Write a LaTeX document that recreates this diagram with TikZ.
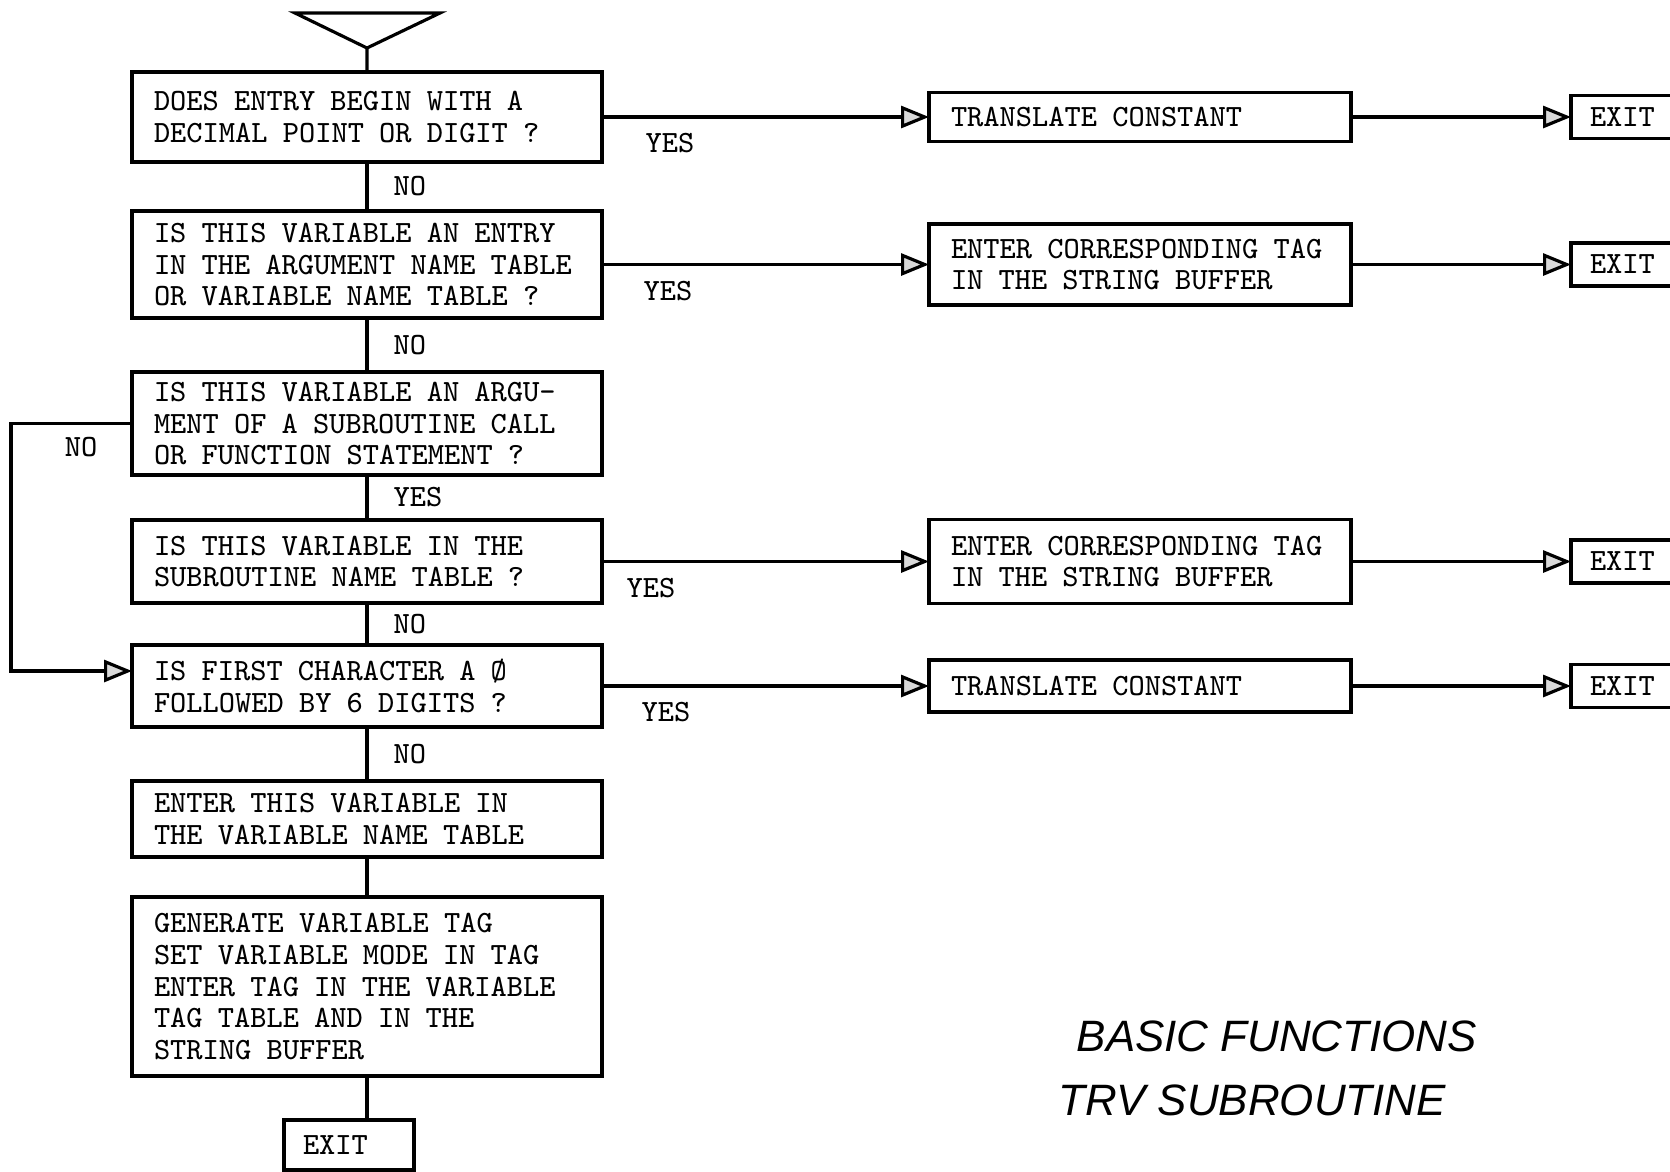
\documentclass[tikz,border=0pt]{standalone}
\usepackage{fontspec}
\usetikzlibrary{positioning,arrows.meta}
\newfontfamily\lettering{Liberation Sans}
\newcommand\typew{\ttfamily\fontsize{8.8}{9}\selectfont}
\newcommand\wsp{\hspace{0.49em}}
\tikzset{
  blk/.style={draw,line width=1pt,font=\typew,align=left,inner xsep=2.2mm,inner ysep=0.5mm,outer sep=0pt,text width=4.26cm},
  rblk/.style={blk,inner xsep=2.2mm,text width=3.78cm},
  exitb/.style={blk,inner xsep=1.9mm,text width=0.82cm,minimum height=4.3mm},
  ln/.style={line width=0.9pt},
  arr/.style={ln,-{Triangle[length=2.8mm,width=2.2mm,fill=gray!30]}},
  lab/.style={font=\typew,inner sep=0pt},
  ttl/.style={font=\lettering\itshape\fontsize{12.5}{14}\selectfont,inner sep=0pt},
}
\begin{document}
\begin{tikzpicture}[node distance=4.5mm and 3.27cm]
\useasboundingbox (0,0) rectangle (16.70,-11.71);
\draw[ln] (2.95,-0.13) -- (4.40,-0.13) -- (3.67,-0.48) -- cycle;
\coordinate (st) at (3.67,-0.48);
\node[blk,anchor=north west,minimum height=9mm] (q1) at (1.32,-0.72) {DOES\wsp ENTRY\wsp BEGIN\wsp WITH\wsp A\\DECIMAL\wsp POINT\wsp OR\wsp DIGIT\wsp ?};
\node[blk,below=4.9mm of q1,minimum height=10.7mm] (q2) {IS\wsp THIS\wsp VARIABLE\wsp AN\wsp ENTRY\\IN\wsp THE\wsp ARGUMENT\wsp NAME\wsp TABLE\\OR\wsp VARIABLE\wsp NAME\wsp TABLE\wsp ?};
\node[blk,below=5.4mm of q2,minimum height=10.3mm] (q3) {IS\wsp THIS\wsp VARIABLE\wsp AN\wsp ARGU-\\MENT\wsp OF\wsp A\wsp SUBROUTINE\wsp CALL\\OR\wsp FUNCTION\wsp STATEMENT\wsp ?};
\node[blk,below=4.5mm of q3,minimum height=8.3mm] (q4) {IS\wsp THIS\wsp VARIABLE\wsp IN\wsp THE\\SUBROUTINE\wsp NAME\wsp TABLE\wsp ?};
\node[blk,below=4.2mm of q4,minimum height=8.2mm] (q5) {IS\wsp FIRST\wsp CHARACTER\wsp A\wsp Ø\\FOLLOWED\wsp BY\wsp 6\wsp DIGITS\wsp ?};
\node[blk,below=5.4mm of q5,minimum height=7.6mm] (ent) {ENTER\wsp THIS\wsp VARIABLE\wsp IN\\THE\wsp VARIABLE\wsp NAME\wsp TABLE};
\node[blk,below=4mm of ent,minimum height=17.9mm] (gen) {GENERATE\wsp VARIABLE\wsp TAG\\SET\wsp VARIABLE\wsp MODE\wsp IN\wsp TAG\\ENTER\wsp TAG\wsp IN\wsp THE\wsp VARIABLE\\TAG\wsp TABLE\wsp AND\wsp IN\wsp THE\\STRING\wsp BUFFER};
\node[exitb,below=4.4mm of gen,xshift=-1.8mm,text width=0.92cm,minimum height=5mm] (ex0) {EXIT};
% right hand branches
\node[rblk,right=of q1,minimum height=4.9mm] (tc1) {TRANSLATE\wsp CONSTANT};
\node[rblk,right=of q2,minimum height=8.1mm] (tag2) {ENTER\wsp CORRESPONDING\wsp TAG\\IN\wsp THE\wsp STRING\wsp BUFFER};
\node[rblk,right=of q4,minimum height=8.4mm] (tag4) {ENTER\wsp CORRESPONDING\wsp TAG\\IN\wsp THE\wsp STRING\wsp BUFFER};
\node[rblk,right=of q5,minimum height=5.2mm] (tc5) {TRANSLATE\wsp CONSTANT};
\node[exitb,right=2.2cm of tc1] (ex1) {EXIT};
\node[exitb,right=2.2cm of tag2] (ex2) {EXIT};
\node[exitb,right=2.2cm of tag4] (ex4) {EXIT};
\node[exitb,right=2.2cm of tc5] (ex5) {EXIT};
\draw[ln] (st) -- (q1);
\draw[ln] (q1) -- node[lab,right=2.5mm]{NO} (q2);
\draw[ln] (q2) -- node[lab,right=2.5mm]{NO} (q3);
\draw[ln] (q3) -- node[lab,right=2.5mm]{YES} (q4);
\draw[ln] (q4) -- node[lab,right=2.5mm]{NO} (q5);
\draw[ln] (q5) -- node[lab,right=2.5mm]{NO} (ent);
\draw[ln] (ent) -- (gen);
\draw[ln] (gen.south) -- (gen.south |- ex0.north);
\draw[arr] (q3.west) -- node[lab,pos=.42,below=1.2mm]{NO} ++(-1.21,0) |- ([yshift=1.5mm]q5.west);
\draw[arr] (q1) -- node[lab,pos=0,anchor=north west,xshift=4.2mm,yshift=-1.5mm]{YES} (tc1);
\draw[arr] (q2) -- node[lab,pos=0,anchor=north west,xshift=4mm,yshift=-1.5mm]{YES} (tag2);
\draw[arr] (q4) -- node[lab,pos=0,anchor=north west,xshift=2.3mm,yshift=-1.5mm]{YES} (tag4);
\draw[arr] (q5) -- node[lab,pos=0,anchor=north west,xshift=3.8mm,yshift=-1.5mm]{YES} (tc5);
\draw[arr] (tc1) -- (ex1);
\draw[arr] (tag2) -- (ex2);
\draw[arr] (tag4) -- (ex4);
\draw[arr] (tc5) -- (ex5);
\node[ttl,anchor=base west] (tt1) at (10.76,-10.51) {BASIC FUNCTIONS};
\node[ttl,anchor=base west] (tt2) at (10.58,-11.15) {TRV SUBROUTINE};
\end{tikzpicture}
\end{document}
